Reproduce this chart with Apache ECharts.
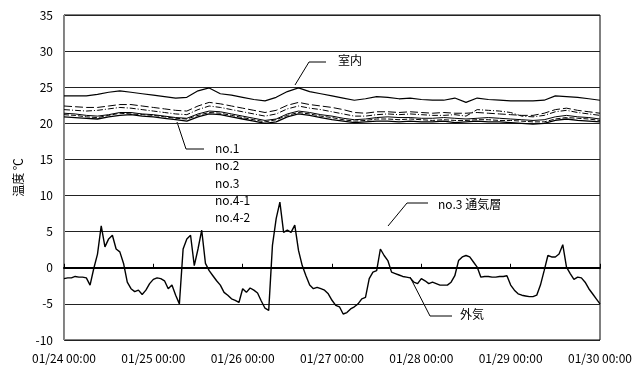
<!DOCTYPE html>
<html>
<head>
<meta charset="utf-8">
<script src="https://cdn.jsdelivr.net/npm/echarts@6/dist/echarts.min.js"></script>
<style>
html,body{margin:0;padding:0;background:#fff;}
#chart{width:637px;height:368px;}
</style>
</head>
<body>
<div id="chart"></div>
<script>
// x軸ラベル（1日ごと）
var dayLabels = ['01/24 00:00','01/25 00:00','01/26 00:00','01/27 00:00','01/28 00:00','01/29 00:00','01/30 00:00'];

// 室内・壁体内 は3時間ごとの読み取り値
var hours3 = [0,3,6,9,12,15,18,21,24,27,30,33,36,39,42,45,48,51,54,57,60,63,66,69,72,75,78,81,84,87,90,93,96,99,102,105,108,111,114,117,120,123,126,129,132,135,138,141,144];

var shitsunai = [23.8,23.8,23.8,24.0,24.3,24.5,24.3,24.1,23.9,23.7,23.5,23.6,24.5,24.9,24.1,23.9,23.6,23.3,23.1,23.6,24.4,24.9,24.4,24.1,23.8,23.5,23.2,23.4,23.7,23.6,23.4,23.5,23.3,23.2,23.2,23.5,22.9,23.5,23.3,23.2,23.1,23.1,23.1,23.2,23.8,23.7,23.6,23.4,23.2];
var no42 = [22.4,22.3,22.2,22.2,22.4,22.6,22.6,22.4,22.2,22.0,21.8,21.7,22.4,22.9,22.7,22.4,22.1,21.8,21.5,21.8,22.5,22.9,22.6,22.4,22.2,21.9,21.5,21.4,21.6,21.6,21.5,21.6,21.5,21.4,21.5,21.4,21.4,21.5,21.4,21.3,21.2,21.1,21.1,21.4,21.9,22.1,21.8,21.6,21.4];
var no41 = [21.9,21.8,21.7,21.8,22.0,22.2,22.1,21.9,21.7,21.5,21.3,21.2,21.9,22.4,22.2,21.9,21.6,21.3,21.0,21.3,22.0,22.4,22.1,21.9,21.6,21.3,21.0,21.0,21.2,21.3,21.2,21.3,21.2,21.1,21.1,21.2,21.0,21.9,21.8,21.7,21.5,21.0,20.9,21.1,21.6,21.8,21.5,21.3,21.1];
var no3 = [21.4,21.3,21.1,21.0,21.2,21.5,21.5,21.3,21.2,21.0,20.8,20.7,21.3,21.7,21.6,21.3,21.0,20.7,20.4,20.6,21.3,21.7,21.5,21.2,21.0,20.7,20.5,20.6,20.8,20.9,20.8,20.8,20.7,20.7,20.8,20.7,20.6,20.7,20.8,20.7,20.6,20.5,20.4,20.5,20.9,21.1,20.9,20.8,20.6];
var no2 = [21.2,21.1,20.9,20.8,21.1,21.4,21.3,21.2,21.1,20.9,20.7,20.6,21.1,21.5,21.4,21.1,20.8,20.5,20.2,20.5,21.1,21.5,21.3,21.0,20.8,20.5,20.3,20.4,20.6,20.6,20.5,20.6,20.5,20.4,20.5,20.4,20.4,20.5,20.5,20.4,20.4,20.3,20.2,20.2,20.6,20.8,20.7,20.6,20.4];
var no1 = [20.9,20.8,20.7,20.6,20.9,21.1,21.2,21.0,20.9,20.7,20.5,20.3,20.9,21.3,21.2,20.9,20.6,20.3,20.0,20.2,20.9,21.3,21.1,20.8,20.5,20.3,20.1,20.2,20.3,20.3,20.2,20.3,20.2,20.2,20.3,20.1,20.2,20.3,20.2,20.2,20.1,20.0,19.9,20.0,20.4,20.6,20.4,20.3,20.2];

// 外気 は1時間ごと（0〜144時）
var gaiki = [
  -1.5,-1.4,-1.4,-1.2,-1.3,-1.3,-1.4,-2.4,-0.1,1.9,5.8,2.9,4.0,4.5,2.6,2.2,0.6,-2.0,-2.9,-3.3,-3.1,-3.7,-3.1,-2.2,
  -1.6,-1.4,-1.5,-1.8,-2.9,-2.4,-3.8,-5.0,2.6,4.0,4.5,0.3,2.6,5.2,0.6,-0.4,-1.1,-1.8,-2.4,-3.4,-3.8,-4.3,-4.5,-4.8,
  -2.9,-3.4,-2.8,-3.1,-3.5,-4.6,-5.6,-5.9,3.1,6.8,9.1,4.9,5.2,4.9,5.9,2.4,0.3,-1.1,-2.4,-2.9,-2.7,-2.9,-3.1,-3.6,
  -4.5,-5.2,-5.4,-6.4,-6.2,-5.7,-5.4,-5.0,-4.3,-4.1,-1.5,-0.6,-0.4,2.6,1.7,1.0,-0.6,-0.8,-1.0,-1.2,-1.3,-1.4,-2.0,-2.2,
  -1.5,-1.8,-2.2,-2.0,-2.2,-2.4,-2.4,-2.4,-2.0,-1.1,1.0,1.5,1.7,1.5,0.8,0.1,-1.3,-1.2,-1.2,-1.3,-1.3,-1.2,-1.2,-1.1,
  -2.4,-3.1,-3.6,-3.8,-3.9,-4.0,-4.0,-3.8,-2.4,-0.4,1.7,1.5,1.5,1.9,3.2,0.1,-0.8,-1.6,-1.3,-1.4,-2.0,-2.9,-3.6,-4.3,-5.0
];

var FONT = 'Noto Sans CJK JP';

function pairs(xs, ys){
    return ys.map(function(v, i){ return [xs[i], v]; });
}
function line(name, data, width, type){
    return {
        name: name, type: 'line', data: data,
        symbol: 'none', silent: true, animation: false,
        lineStyle: {color: '#000', width: width, type: type}
    };
}

var option = {
    animation: false,
    textStyle: {fontFamily: FONT},
    grid: {left: 64, right: 37, top: 15, bottom: 28, show: true, borderColor: '#000', borderWidth: 1},
    xAxis: [
        {
            type: 'value', min: 0, max: 144, interval: 24, position: 'bottom',
            axisLine: {show: false, onZero: false},
            axisTick: {show: false},
            splitLine: {show: false},
            axisLabel: {
                color: '#000', fontSize: 12, margin: 12, fontFamily: FONT,
                formatter: function(v){ return dayLabels[v / 24]; }
            }
        },
        {
            // 0℃ の線と日付の目盛（上向き）
            type: 'value', min: 0, max: 144, interval: 24, position: 'bottom',
            axisLine: {show: true, onZero: true, lineStyle: {color: '#000', width: 2}},
            axisTick: {show: true, inside: true, length: 4, lineStyle: {color: '#000', width: 1}},
            axisLabel: {show: false},
            splitLine: {show: false}
        }
    ],
    yAxis: [
        {
            type: 'value', min: -10, max: 35, interval: 5,
            name: '温度 ℃', nameLocation: 'middle', nameGap: 40, nameRotate: 90,
            nameTextStyle: {color: '#000', fontSize: 12, fontFamily: FONT},
            axisLine: {show: true, lineStyle: {color: '#000', width: 1}},
            axisTick: {show: false},
            axisLabel: {color: '#000', fontSize: 12, margin: 11, fontFamily: FONT},
            splitLine: {show: true, lineStyle: {color: '#222', width: 1}}
        },
        {
            type: 'value', min: -10, max: 35, interval: 5, position: 'right',
            axisLine: {show: true, lineStyle: {color: '#888', width: 1}},
            axisTick: {show: false}, axisLabel: {show: false}, splitLine: {show: false}
        }
    ],
    series: [
        line('外気', pairs(gaiki.map(function(v, i){ return i; }), gaiki), 1.4, 'solid'),
        line('no.4-2', pairs(hours3, no42), 1, [8, 3]),
        line('no.4-1', pairs(hours3, no41), 1, [6, 2, 1, 2]),
        line('no.3', pairs(hours3, no3), 1, 'solid'),
        line('no.2', pairs(hours3, no2), 1, [5, 2]),
        line('no.1', pairs(hours3, no1), 1.3, 'solid'),
        line('室内', pairs(hours3, shitsunai), 1.2, 'solid')
    ],
    graphic: [
        // 室内 の引出線
        {type: 'polyline', shape: {points: [[295, 85], [309, 62], [326, 62]]}, style: {stroke: '#000', lineWidth: 1, fill: null}},
        {type: 'text', x: 338, y: 54, style: {text: '室内', font: '12px "' + FONT + '"', fill: '#000'}},
        // no.1〜 の引出線
        {type: 'polyline', shape: {points: [[177, 122], [186, 149], [204, 149]]}, style: {stroke: '#000', lineWidth: 1, fill: null}},
        {type: 'text', x: 215, y: 142, style: {text: 'no.1', font: '12px "' + FONT + '"', fill: '#000'}},
        {type: 'text', x: 215, y: 159, style: {text: 'no.2', font: '12px "' + FONT + '"', fill: '#000'}},
        {type: 'text', x: 215, y: 177, style: {text: 'no.3', font: '12px "' + FONT + '"', fill: '#000'}},
        {type: 'text', x: 215, y: 194, style: {text: 'no.4-1', font: '12px "' + FONT + '"', fill: '#000'}},
        {type: 'text', x: 215, y: 211, style: {text: 'no.4-2', font: '12px "' + FONT + '"', fill: '#000'}},
        // 通気層
        {type: 'polyline', shape: {points: [[388, 226], [407, 203], [428, 203]]}, style: {stroke: '#000', lineWidth: 1, fill: null}},
        {type: 'text', x: 438, y: 198, style: {text: 'no.3 通気層', font: '12px "' + FONT + '"', fill: '#000'}},
        // 外気
        {type: 'polyline', shape: {points: [[410, 277], [430, 316], [452, 316]]}, style: {stroke: '#000', lineWidth: 1, fill: null}},
        {type: 'text', x: 460, y: 308, style: {text: '外気', font: '12px "' + FONT + '"', fill: '#000'}}
    ]
};

var myChart = echarts.init(document.getElementById('chart'));
myChart.setOption(option);
</script>
</body>
</html>
